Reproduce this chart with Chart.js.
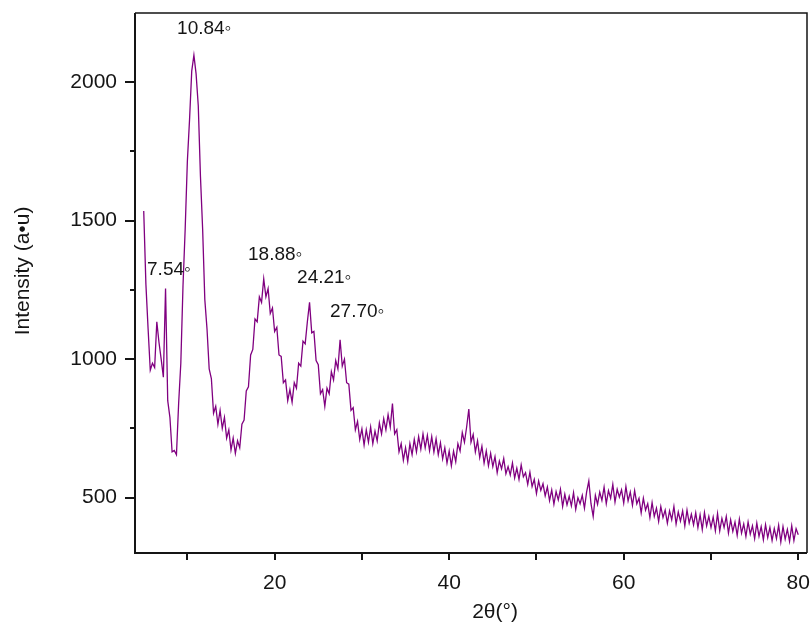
<!DOCTYPE html>
<html>
<head>
<meta charset="utf-8">
<script src="https://cdn.jsdelivr.net/npm/chart.js@4.4.1/dist/chart.umd.min.js"></script>
<style>
html, body { margin: 0; padding: 0; background: #fff; }
#wrap { width: 810px; height: 624px; }
</style>
</head>
<body>
<div id="wrap"><canvas id="xrdChart" width="810" height="624"></canvas></div>
<script>
var twoTheta = [
  5, 5.25, 5.5, 5.75,   6, 6.25, 6.5, 6.75,   7, 7.25, 7.5, 7.75,   8, 8.25, 8.5, 8.75,
  9, 9.25, 9.5, 9.75,   10, 10.25, 10.5, 10.75, 11, 11.25, 11.5, 11.75, 12, 12.25, 12.5, 12.75,
  13, 13.25, 13.5, 13.75, 14, 14.25, 14.5, 14.75, 15, 15.25, 15.5, 15.75, 16, 16.25, 16.5, 16.75,
  17, 17.25, 17.5, 17.75, 18, 18.25, 18.5, 18.75, 19, 19.25, 19.5, 19.75, 20, 20.25, 20.5, 20.75,
  21, 21.25, 21.5, 21.75, 22, 22.25, 22.5, 22.75, 23, 23.25, 23.5, 23.75, 24, 24.25, 24.5, 24.75,
  25, 25.25, 25.5, 25.75, 26, 26.25, 26.5, 26.75, 27, 27.25, 27.5, 27.75, 28, 28.25, 28.5, 28.75,
  29, 29.25, 29.5, 29.75, 30, 30.25, 30.5, 30.75, 31, 31.25, 31.5, 31.75, 32, 32.25, 32.5, 32.75,
  33, 33.25, 33.5, 33.75, 34, 34.25, 34.5, 34.75, 35, 35.25, 35.5, 35.75, 36, 36.25, 36.5, 36.75,
  37, 37.25, 37.5, 37.75, 38, 38.25, 38.5, 38.75, 39, 39.25, 39.5, 39.75, 40, 40.25, 40.5, 40.75,
  41, 41.25, 41.5, 41.75, 42, 42.25, 42.5, 42.75, 43, 43.25, 43.5, 43.75, 44, 44.25, 44.5, 44.75,
  45, 45.25, 45.5, 45.75, 46, 46.25, 46.5, 46.75, 47, 47.25, 47.5, 47.75, 48, 48.25, 48.5, 48.75,
  49, 49.25, 49.5, 49.75, 50, 50.25, 50.5, 50.75, 51, 51.25, 51.5, 51.75, 52, 52.25, 52.5, 52.75,
  53, 53.25, 53.5, 53.75, 54, 54.25, 54.5, 54.75, 55, 55.25, 55.5, 55.75, 56, 56.25, 56.5, 56.75,
  57, 57.25, 57.5, 57.75, 58, 58.25, 58.5, 58.75, 59, 59.25, 59.5, 59.75, 60, 60.25, 60.5, 60.75,
  61, 61.25, 61.5, 61.75, 62, 62.25, 62.5, 62.75, 63, 63.25, 63.5, 63.75, 64, 64.25, 64.5, 64.75,
  65, 65.25, 65.5, 65.75, 66, 66.25, 66.5, 66.75, 67, 67.25, 67.5, 67.75, 68, 68.25, 68.5, 68.75,
  69, 69.25, 69.5, 69.75, 70, 70.25, 70.5, 70.75, 71, 71.25, 71.5, 71.75, 72, 72.25, 72.5, 72.75,
  73, 73.25, 73.5, 73.75, 74, 74.25, 74.5, 74.75, 75, 75.25, 75.5, 75.75, 76, 76.25, 76.5, 76.75,
  77, 77.25, 77.5, 77.75, 78, 78.25, 78.5, 78.75, 79, 79.25, 79.5, 79.75, 80
];

var intensity = [
  1535, 1270, 1110, 960,  985, 970, 1135, 1060,  1000, 935, 1255, 850,  790, 665, 670, 655,
  840, 985, 1265, 1470,  1715, 1865, 2040, 2098,  2030, 1915, 1660, 1470,  1215, 1110, 965, 930,
  805, 830, 765, 815,  750, 790, 715, 745,  672, 715, 660, 705,  680, 765, 780, 885,
  900, 1015, 1035, 1145,  1135, 1225, 1205, 1290,  1225, 1255, 1165, 1185,  1100, 1115, 1015, 1010,
  915, 925, 850, 890,  845, 915, 895, 985,  975, 1065, 1055, 1135,  1205, 1095, 1100, 995,
  980, 875, 890, 830,  895, 875, 955, 925,  995, 965, 1070, 975,  1000, 915, 910, 815,
  825, 745, 775, 710,  748, 690, 745, 700,  755, 695, 740, 705,  770, 730, 785, 745,
  800, 755, 840, 730,  745, 665, 695, 635,  680, 630, 695, 655,  710, 665, 720, 675,
  730, 680, 725, 670,  720, 665, 712, 655,  698, 640, 680, 625,  668, 615, 668, 630,
  695, 668, 735, 700,  755, 820, 700, 728,  665, 705, 645, 685,  625, 668, 615, 660,
  612, 648, 590, 632,  604, 641, 586, 612,  582, 625, 571, 606,  566, 618, 575, 590,
  548, 592, 540, 566,  515, 560, 526, 550,  506, 538, 489, 528,  476, 522, 492, 530,
  468, 512, 474, 505,  470, 518, 458, 500,  478, 508, 462, 521,  560, 478, 432, 508,
  476, 520, 490, 538,  478, 525, 498, 548,  484, 530, 502, 528,  480, 540, 488, 520,
  472, 525, 478, 498,  445, 498, 455, 478,  428, 482, 432, 462,  414, 468, 428, 455,
  408, 452, 420, 468,  405, 448, 415, 452,  398, 455, 408, 440,  402, 445, 392, 438,
  385, 446, 398, 432,  392, 430, 380, 442,  380, 425, 392, 432,  372, 420, 378, 412,
  364, 422, 372, 405,  360, 412, 368, 398,  352, 408, 360, 395,  348, 402, 356, 392,
  345, 388, 352, 400,  340, 395, 350, 385,  342, 398, 345, 388,  366
];

var xMajorTicks = [20, 40, 60, 80];
var xMinorTicks = [10, 30, 50, 70];
var yMajorTicks = [500, 1000, 1500, 2000];
var yMinorTicks = [750, 1250, 1750];

// peak labels, placed at (2theta, intensity) of their left/middle anchor
var peakLabels = ['7.54\u25E6', '10.84\u25E6', '18.88\u25E6', '24.21\u25E6', '27.70\u25E6'];
var peakLabelX = [5.38, 8.82, 16.95, 22.57, 26.35];
var peakLabelY = [1322, 2192, 1376, 1293, 1170];

var FONT = '"Liberation Sans", Arial, sans-serif';
var INK = '#151515';

function noPad(s) {
  s.paddingLeft = 0; s.paddingRight = 0; s.paddingTop = 0; s.paddingBottom = 0;
}

var frameAndText = {
  id: 'frameAndText',
  afterDraw: function (chart) {
    var ctx = chart.ctx;
    var a = chart.chartArea;
    var xs = chart.scales.x, ys = chart.scales.y;
    ctx.save();
    ctx.strokeStyle = INK;

    // box
    ctx.lineWidth = 1.5;
    ctx.beginPath();
    ctx.moveTo(a.left, a.top); ctx.lineTo(a.right, a.top); ctx.lineTo(a.right, a.bottom);
    ctx.stroke();
    ctx.lineWidth = 2;
    ctx.beginPath();
    ctx.moveTo(a.left, a.top); ctx.lineTo(a.left, a.bottom); ctx.lineTo(a.right, a.bottom);
    ctx.stroke();

    // tick marks
    ctx.lineWidth = 2;
    ctx.beginPath();
    xMajorTicks.concat(xMinorTicks).forEach(function (v) {
      var p = Math.round(xs.getPixelForValue(v));
      ctx.moveTo(p, a.bottom); ctx.lineTo(p, a.bottom + 7);
    });
    yMajorTicks.forEach(function (v) {
      var p = Math.round(ys.getPixelForValue(v));
      ctx.moveTo(a.left, p); ctx.lineTo(a.left - 10, p);
    });
    yMinorTicks.forEach(function (v) {
      var p = Math.round(ys.getPixelForValue(v));
      ctx.moveTo(a.left, p); ctx.lineTo(a.left - 5, p);
    });
    ctx.stroke();

    // axis titles
    ctx.fillStyle = INK;
    ctx.font = '21px ' + FONT;
    ctx.textAlign = 'center';
    ctx.textBaseline = 'middle';
    ctx.fillText('2\u03B8(\u00B0)', 495, 612);
    ctx.save();
    ctx.translate(23, 271);
    ctx.rotate(-Math.PI / 2);
    ctx.fillText('Intensity (a\u2022u)', 0, 0);
    ctx.restore();

    // peak annotations
    ctx.font = '19px ' + FONT;
    ctx.textAlign = 'left';
    for (var i = 0; i < peakLabels.length; i++) {
      ctx.fillText(peakLabels[i], xs.getPixelForValue(peakLabelX[i]), ys.getPixelForValue(peakLabelY[i]));
    }
    ctx.restore();
  }
};

var points = twoTheta.map(function (t, i) { return { x: t, y: intensity[i] }; });

new Chart(document.getElementById('xrdChart'), {
  type: 'line',
  data: {
    datasets: [{
      data: points,
      borderColor: '#800080',
      borderWidth: 1.3,
      pointRadius: 0,
      tension: 0,
      fill: false
    }]
  },
  options: {
    responsive: false,
    animation: false,
    layout: { padding: { top: 13, right: 3, left: 0, bottom: 0 } },
    plugins: { legend: { display: false }, tooltip: { enabled: false } },
    scales: {
      x: {
        type: 'linear',
        min: 4,
        max: 81,
        afterFit: function (s) { s.height = 71; noPad(s); },
        afterBuildTicks: function (s) { s.ticks = xMajorTicks.map(function (v) { return { value: v }; }); },
        grid: { display: false, drawTicks: false },
        border: { display: false },
        ticks: {
          font: { family: FONT, size: 21 }, color: INK, padding: 18, maxRotation: 0, autoSkip: false,
          callback: function (v) { return String(v); }
        }
      },
      y: {
        type: 'linear',
        min: 300,
        max: 2250,
        afterFit: function (s) { s.width = 135; noPad(s); },
        afterBuildTicks: function (s) { s.ticks = yMajorTicks.map(function (v) { return { value: v }; }); },
        grid: { display: false, drawTicks: false },
        border: { display: false },
        ticks: {
          font: { family: FONT, size: 21 }, color: INK, padding: 18, autoSkip: false,
          callback: function (v) { return String(v); }
        }
      }
    }
  },
  plugins: [frameAndText]
});
</script>
</body>
</html>
